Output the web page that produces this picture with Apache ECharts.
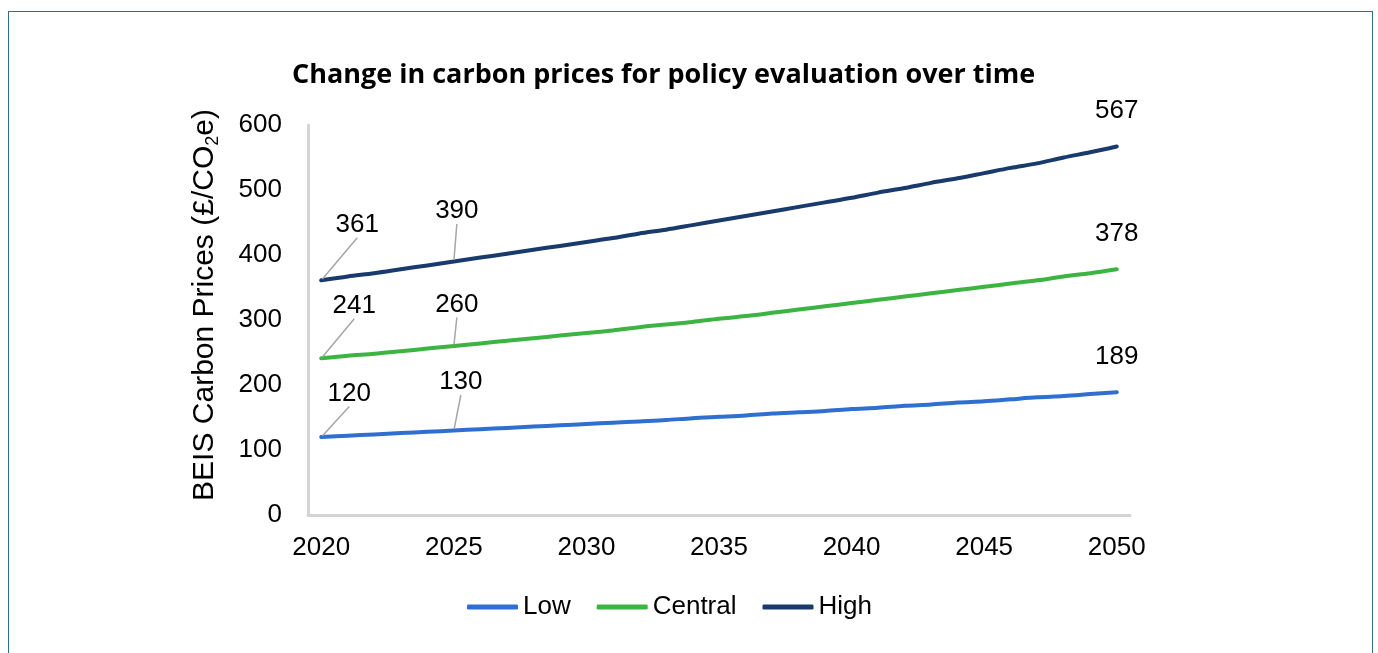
<!DOCTYPE html>
<html>
<head>
<meta charset="utf-8">
<script src="https://cdn.jsdelivr.net/npm/echarts@6/dist/echarts.min.js"></script>
<style>
  html, body { margin: 0; padding: 0; background: #fff; }
  #frame {
    position: absolute;
    left: 8px;
    top: 11px;
    width: 1363px;
    height: 700px;
    border: 1.5px solid #2f6f8f;
  }
  #chart { position: absolute; left: 0; top: 0; width: 1378px; height: 653px; }
</style>
</head>
<body>
<div id="frame"></div>
<div id="chart"></div>
<script>
// years on the x axis
var years = [];
for (var y = 2020; y <= 2050; y++) years.push(String(y));

// carbon prices (GBP / tCO2e)
var lowValues = [120, 122, 124, 126, 128, 130, 132, 134, 136, 138, 140, 142, 144, 146, 149, 151,
  153, 156, 158, 160, 163, 165, 168, 170, 173, 175, 178, 181, 183, 186, 189];
var centralValues = [241, 245, 248, 252, 256, 260, 264, 268, 272, 276, 280, 284, 289, 293, 297, 302,
  306, 311, 316, 321, 326, 331, 336, 341, 346, 351, 356, 361, 367, 372, 378];
var highValues = [361, 367, 372, 378, 384, 390, 396, 402, 408, 414, 420, 426, 433, 439, 446, 453,
  460, 467, 474, 481, 488, 496, 503, 511, 518, 526, 534, 541, 550, 558, 567];

var seriesNames = ["Low", "Central", "High"];
var seriesColors = ["#2f6fd0", "#3cb442", "#193a6d"];
var labelledIndex = [0, 5, 30];

var font = "'Liberation Sans', Arial, sans-serif";

// label nudges, [dx, dy] by series then data index
var labelShift = [
  { 0: [28, -24], 5: [7, -29] },
  { 0: [33, -33], 5: [3, -22] },
  { 0: [36, -36], 5: [3, -31] }
];

function buildData(values) {
  return values.map(function (v, i) {
    var item = { value: v };
    if (labelledIndex.indexOf(i) >= 0) {
      item.label = { show: true };
      if (i === values.length - 1) {
        item.label.distance = 21;
        item.labelLine = { show: false };
      }
    }
    return item;
  });
}

var allValues = [lowValues, centralValues, highValues];

var series = allValues.map(function (vals, s) {
  return {
    name: seriesNames[s],
    type: "line",
    data: buildData(vals),
    smooth: 0.3,
    symbol: "circle",
    symbolSize: 3,
    showSymbol: true,
    itemStyle: { color: seriesColors[s] },
    lineStyle: { width: 4, color: seriesColors[s], cap: "round" },
    label: {
      show: false,
      position: "top",
      distance: 5,
      color: "#000",
      fontSize: 26,
      fontFamily: font
    },
    labelLine: {
      show: true,
      lineStyle: { color: "#a6a6a6", width: 1.5 }
    },
    labelLayout: function (p) {
      var off = labelShift[p.seriesIndex][p.dataIndex];
      return off ? { dx: off[0], dy: off[1] } : {};
    },
    emphasis: { disabled: true }
  };
});

var option = {
  animation: false,
  title: {
    text: "Change in carbon prices for policy evaluation over time",
    left: 287,
    top: 57,
    textStyle: {
      fontFamily: "'Open Sans', 'Noto Sans', sans-serif",
      fontWeight: "bold",
      fontSize: 27,
      color: "#000"
    }
  },
  legend: {
    left: 462,
    top: 589,
    icon: "roundRect",
    itemWidth: 51,
    itemHeight: 5,
    itemGap: 26,
    textStyle: { fontFamily: font, fontSize: 26, color: "#000" },
    data: seriesNames
  },
  grid: { left: 308, right: 248, top: 125, bottom: 138 },
  xAxis: {
    type: "category",
    data: years,
    boundaryGap: true,
    axisLine: { lineStyle: { color: "#d4d4d4", width: 3 } },
    axisTick: { show: false },
    axisLabel: {
      interval: 4,
      margin: 20,
      color: "#000",
      fontSize: 26,
      fontFamily: font
    }
  },
  yAxis: {
    type: "value",
    min: 0,
    max: 600,
    interval: 100,
    name: "BEIS Carbon Prices (£/CO{sub|2}e)",
    nameLocation: "middle",
    nameGap: 86,
    nameTextStyle: {
      fontFamily: font,
      fontSize: 30,
      color: "#000",
      lineHeight: 34,
      padding: [0, 0, 0, 30],
      rich: {
        sub: { fontFamily: font, fontSize: 18, color: "#000", verticalAlign: "bottom", lineHeight: 34 }
      }
    },
    axisLine: { show: true, lineStyle: { color: "#d4d4d4", width: 3 } },
    axisTick: { show: false },
    splitLine: { show: false },
    axisLabel: {
      margin: 26,
      color: "#000",
      fontSize: 26,
      fontFamily: font
    }
  },
  series: series
};

var chart = echarts.init(document.getElementById("chart"));
chart.setOption(option);
</script>
</body>
</html>
